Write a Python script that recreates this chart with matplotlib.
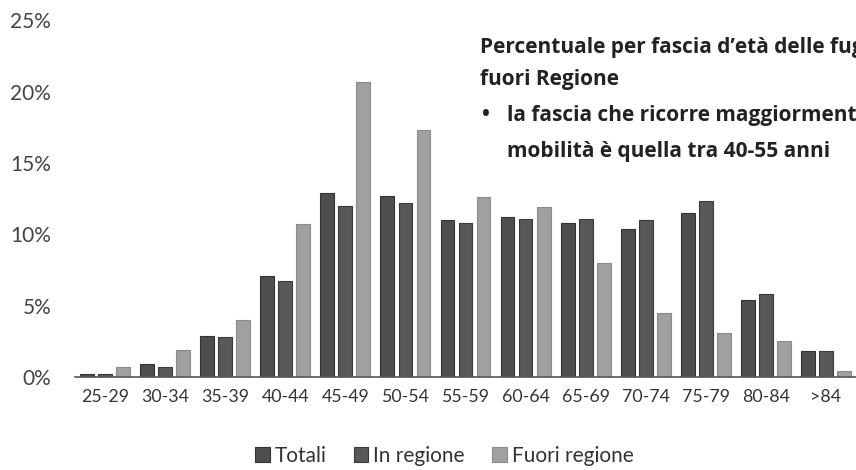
import numpy as np
import matplotlib.pyplot as plt

# fasce d'età
fasce = ['25-29', '30-34', '35-39', '40-44', '45-49', '50-54', '55-59',
         '60-64', '65-69', '70-74', '75-79', '80-84', '>84']

# percentuali
totali = [0.2, 0.9, 2.9, 7.1, 12.9, 12.7, 11.0, 11.2, 10.8, 10.4, 11.5, 5.4, 1.8]
in_regione = [0.2, 0.7, 2.8, 6.7, 12.0, 12.2, 10.8, 11.1, 11.1, 11.0, 12.3, 5.8, 1.8]
fuori_regione = [0.7, 1.9, 4.0, 10.7, 20.7, 17.3, 12.6, 11.9, 8.0, 4.5, 3.1, 2.5, 0.4]

serie = ['Totali', 'In regione', 'Fuori regione']
colori = ['#4e4e4e', '#585858', '#a0a0a0']
bordi = ['#333333', '#3a3a3a', '#8a8a8a']

plt.rcParams['font.family'] = ['Lato', 'DejaVu Sans']

fig = plt.figure(figsize=(8.56, 4.70), dpi=100)
ax = fig.add_axes([0.0876, 0.198, 0.9124, 0.759])

x = np.arange(len(fasce))
passo = 0.30
larghezza = 0.23
for i, (valori, nome) in enumerate(zip([totali, in_regione, fuori_regione], serie)):
    ax.bar(x + (i - 1) * passo, valori, larghezza, color=colori[i],
           edgecolor=bordi[i], linewidth=0.8, label=nome)

ax.set_xlim(-0.5, 12.5)
ax.set_ylim(0, 25)
ax.set_yticks([0, 5, 10, 15, 20, 25])
ax.set_yticklabels(['0%', '5%', '10%', '15%', '20%', '25%'], fontsize=15, color='#444444')
ax.set_xticks(x)
ax.set_xticklabels(fasce, fontsize=12.8, color='#333333')
ax.tick_params(axis='both', length=0)
ax.tick_params(axis='y', pad=17)
ax.tick_params(axis='x', pad=9)

for lato in ['top', 'right', 'left']:
    ax.spines[lato].set_visible(False)
ax.spines['bottom'].set_color('#555555')
ax.spines['bottom'].set_linewidth(1.2)

# testo descrittivo (tagliato a destra come nell'originale)
stile = dict(fontsize=15, fontweight='bold', color='#222222',
             family=['Open Sans', 'DejaVu Sans'], transform=fig.transFigure,
             va='center', ha='left')
fig.text(480 / 856, 1 - 47 / 470, 'Percentuale per fascia d’età delle fug', **stile)
fig.text(480 / 856, 1 - 80 / 470, 'fuori Regione', **stile)
fig.text(482 / 856, 1 - 116 / 470, '•', **stile)
fig.text(507 / 856, 1 - 116 / 470, 'la fascia che ricorre maggiormente', **stile)
fig.text(507 / 856, 1 - 152 / 470, 'mobilità è quella tra 40-55 anni', **stile)

fig.legend(loc='center', bbox_to_anchor=(0.519, 1 - 456 / 470), ncol=3,
           frameon=False, fontsize=15, handlelength=0.7, handleheight=0.7,
           handletextpad=0.25, columnspacing=1.3, labelcolor='#333333')

plt.savefig('out.png', dpi=100)
